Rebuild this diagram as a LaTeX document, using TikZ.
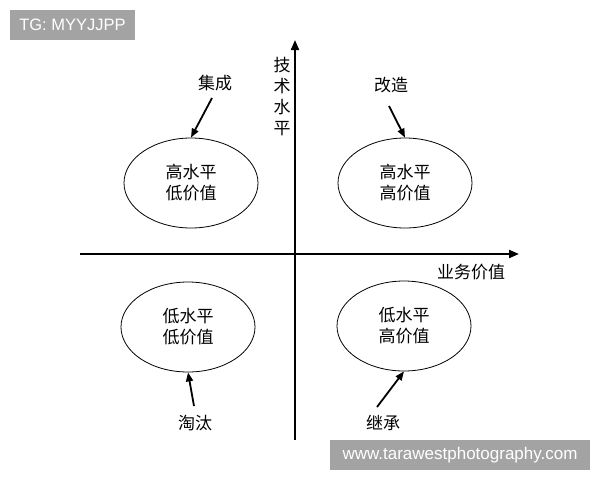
\documentclass[tikz,border=0pt]{standalone}
\usepackage{fontspec}
\setmainfont{Liberation Sans}
\newfontfamily\cjk{Noto Sans CJK SC}
\usetikzlibrary{arrows.meta,shapes.geometric}
\definecolor{wmgray}{RGB}{163,163,163}
\begin{document}
\begin{tikzpicture}[x=1pt,y=-1pt,
  axis/.style={line width=2pt,-{Triangle[length=10pt,width=8pt]}},
  arr/.style={line width=1.8pt,-{Triangle[length=9pt,width=7pt]}},
  oval/.style={ellipse,draw,line width=0.8pt,minimum width=134pt,minimum height=90pt,inner sep=0pt,font=\cjk\fontsize{17}{21}\selectfont,align=center},
  lbl/.style={font=\cjk\fontsize{17}{21}\selectfont,inner sep=0pt,align=center},
  wm/.style={fill=wmgray,text=white,inner sep=0pt,font=\fontsize{16.5}{18}\selectfont}]
\useasboundingbox[fill=white] (0,0) rectangle (600,480);
% watermarks
\node[wm,minimum width=125pt,minimum height=30pt] (tg) at (72.5,25) {TG: MYYJJPP};
\node[wm,minimum width=260pt,minimum height=30pt,font=\fontsize{17}{18}\selectfont] (web) at (460,455) {www.tarawestphotography.com};
% axes
\coordinate (xs) at (80,254);
\coordinate (xe) at (519,254);
\coordinate (ys) at (295,440);
\coordinate (ye) at (295,40);
\draw[axis] (xs) -- (xe);
\draw[axis] (ys) -- (ye);
\node[lbl] (ylab) at (282,97) {技\\术\\水\\平};
\node[lbl] (xlab) at (471,272) {业务价值};
% ellipses
\node[oval] (e1) at (191,183) {高水平\\低价值};
\node[oval] (e2) at (405,183) {高水平\\高价值};
\node[oval] (e3) at (188,327) {低水平\\低价值};
\node[oval] (e4) at (404,326) {低水平\\高价值};
% labels
\node[lbl] (l1) at (215,83) {集成};
\node[lbl] (l2) at (391,85) {改造};
\node[lbl] (l3) at (195,423) {淘汰};
\node[lbl] (l4) at (383,423) {继承};
% arrows
\coordinate (a1) at (212,98);
\coordinate (a2) at (389,106);
\coordinate (a3) at (194,406);
\coordinate (a4) at (377,407);
\draw[arr] (a1) -- (e1.north);
\draw[arr] (a2) -- (e2.north);
\draw[arr] (a3) -- (e3.south);
\draw[arr] (a4) -- (e4.south);
\end{tikzpicture}
\end{document}
